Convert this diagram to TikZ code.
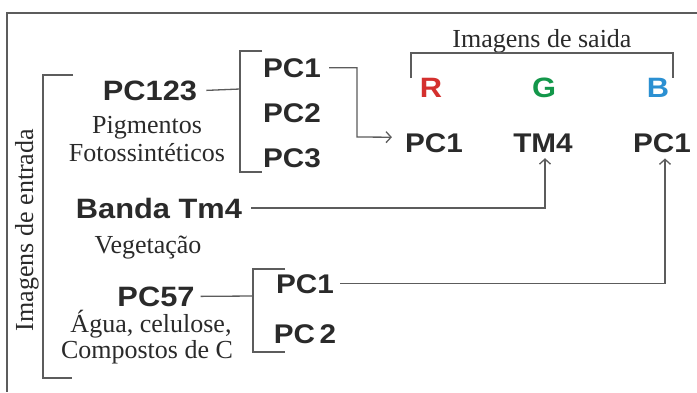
\documentclass[tikz,border=0pt]{standalone}
\usepackage{fontspec}
\setmainfont{Liberation Serif}
\newfontfamily\labfont{Liberation Sans}[FakeStretch=1.1]
\usetikzlibrary{arrows.meta}
\definecolor{txt}{HTML}{2A2A2A}
\definecolor{ln}{HTML}{5C5C5C}
\definecolor{rr}{HTML}{D4302E}
\definecolor{gg}{HTML}{13974A}
\definecolor{bb}{HTML}{2B90D2}
\tikzset{
  conn/.style={draw=ln, line width=1.3pt},
  arr/.style={conn, -{Straight Barb[length=5pt,width=11pt,line width=1.3pt]}},
  serif/.style={inner sep=0pt, anchor=base, text=txt, font=\fontsize{26}{30}\selectfont},
  big/.style={inner sep=0pt, anchor=base, text=txt, font=\labfont\bfseries\fontsize{28}{32}\selectfont},
  mid/.style={inner sep=0pt, anchor=base, text=txt, font=\labfont\bfseries\fontsize{27}{31}\selectfont},
}
\begin{document}
\begin{tikzpicture}[x=1pt,y=-1pt]
\useasboundingbox (0,0) rectangle (697,392);
\fill[white] (0,0) rectangle (697,392);
% frame
\draw[conn] (697,13) -- (7,13) -- (7,392);
% left side
\node[serif, anchor=center, rotate=90] (entrada) at (27,230) {Imagens de entrada};
\draw[conn] (73,75) -- (43,75) -- (43,378) -- (72,378);

\node[big] (pc123) at (150,100) {PC123};
\node[serif] (pig) at (147,133.5) {Pigmentos};
\node[serif] (foto) at (147,161.5) {Fotossintéticos};
\node[mid] (pcA1) at (292,77) {PC1};
\node[mid] (pcA2) at (292,122) {PC2};
\node[mid] (pcA3) at (292,167) {PC3};
\coordinate (brA) at (240,89);
\draw[conn] ([xshift=9pt]pc123.east) -- (brA);
\draw[conn] (262,51) -- (240,51) -- (240,172) -- (262,172);

\node[big] (banda) at (159,218) {Banda Tm4};
\node[serif] (veg) at (148,253) {Vegetação};

\node[big] (pc57) at (156,306) {PC57};
\node[serif] (agua) at (151,332) {Água, celulose,};
\node[serif] (comp) at (147,358) {Compostos de C};
\node[mid] (pcB1) at (305,293) {PC1};
\node[mid] (pcB2) at (305,343) {PC\,2};
\coordinate (brB) at (253,296);
\draw[conn] ([xshift=6pt]pc57.east) -- (brB);
\draw[conn] (285,269) -- (253,269) -- (253,352) -- (285,352);

% right side
\node[serif] (saida) at (542,47) {Imagens de saida};
\draw[conn] (411,78) -- (411,53) -- (673,53) -- (673,78);
\node[big, text=rr] (R) at (431,97) {R};
\node[big, text=gg] (G) at (544,97) {G};
\node[big, text=bb] (B) at (658,97) {B};
\node[mid] (outR) at (434,152) {PC1};
\node[mid] (tm4) at (543,152) {TM4};
\node[mid] (outB) at (662,152) {PC1};

% connectors
\coordinate (kA) at (357,137);
\draw[arr] ([xshift=8pt]pcA1.east) -| (kA) -- ([xshift=-13pt,yshift=5.5pt]outR.west);
\draw[arr] ([xshift=9pt]banda.east) -| ([xshift=2pt,yshift=-6pt]tm4.south);
\draw[arr] ([xshift=6pt]pcB1.east) -| ([xshift=3pt,yshift=-6pt]outB.south);
\end{tikzpicture}
\end{document}
